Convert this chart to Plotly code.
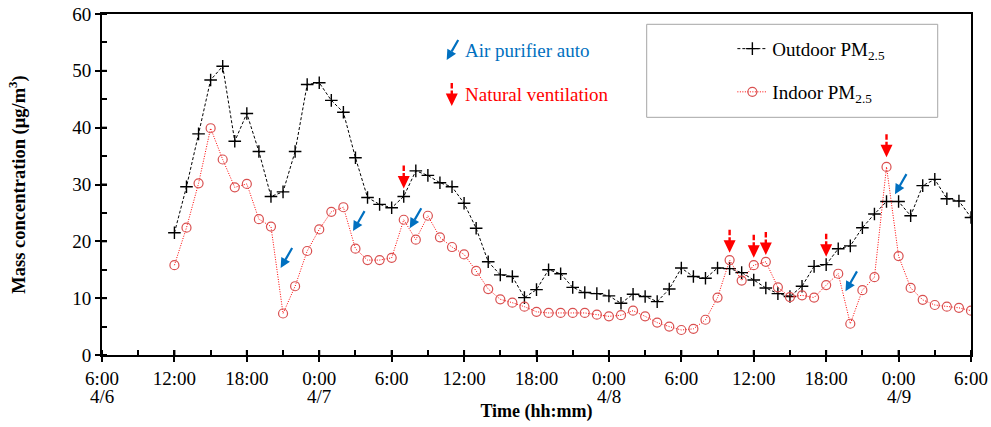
import math
import plotly.graph_objects as go

# Hours elapsed since 4/6 06:00 (hourly samples from 4/6 12:00 to 4/9 06:00)
hours = list(range(6, 73))

outdoor_pm25 = [21.5, 29.6, 38.9, 48.4, 50.8, 37.6, 42.5, 35.8, 27.9, 28.7,
                35.8, 47.6, 47.9, 44.8, 42.7, 34.7, 27.7, 26.5, 25.9, 27.9,
                32.4, 31.6, 30.3, 29.6, 26.7, 22.3, 16.4, 14.1, 13.8, 10.1,
                11.5, 15.0, 14.3, 11.9, 11.0, 10.8, 10.4, 9.1, 10.7, 10.3,
                9.4, 11.6, 15.3, 13.8, 13.5, 15.3, 15.2, 14.5, 13.2, 11.8,
                10.8, 10.3, 12.1, 15.6, 15.9, 18.7, 19.2, 22.4, 24.8, 27.0,
                27.0, 24.5, 29.8, 30.9, 27.5, 27.1, 24.2]

indoor_pm25 = [15.8, 22.4, 30.2, 39.9, 34.4, 29.5, 30.1, 23.9, 22.6, 7.3,
               12.1, 18.3, 22.1, 25.2, 26.0, 18.7, 16.7, 16.7, 17.1, 23.8,
               20.3, 24.5, 20.7, 19.0, 17.7, 14.8, 11.6, 9.8, 9.2, 8.5,
               7.6, 7.4, 7.4, 7.4, 7.4, 7.1, 6.8, 7.0, 7.8, 6.8,
               5.7, 5.0, 4.4, 4.6, 6.2, 10.1, 16.7, 13.1, 15.8, 16.4,
               11.9, 10.2, 10.5, 10.1, 12.3, 14.3, 5.5, 11.4, 13.7, 33.1,
               17.4, 11.8, 9.7, 8.8, 8.5, 8.3, 7.8]

# Events (arrow tips): air purifier switched to auto, natural ventilation
purifier_hours = [14.8, 20.8, 25.5, 61.6, 65.7]
purifier_values = [15.3, 21.8, 22.3, 11.2, 28.3]
ventilation_hours = [25, 52, 54, 55, 60, 65]
ventilation_values = [29.3, 18.0, 17.1, 17.6, 17.3, 34.8]

# Axis ticks
tick_hours = [0, 6, 12, 18, 24, 30, 36, 42, 48, 54, 60, 66, 72]
tick_labels = ["6:00", "12:00", "18:00", "0:00", "6:00", "12:00",
               "18:00", "0:00", "6:00", "12:00", "18:00", "0:00", "6:00"]
date_hours = [0, 18, 42, 66]
date_labels = ["4/6", "4/7", "4/8", "4/9"]
y_ticks = [0, 10, 20, 30, 40, 50, 60]

FONT = "Liberation Serif, Times New Roman, serif"
BLUE = "#0070C0"
RED = "#FF0000"
FS = 19


def blue_arrow_path(dx=11.5, dy=20.0, head_len=10.0, head_half=5.0, shaft_half=1.1):
    """Diagonal arrow, tip at origin, tail up-right (pixel units, y up)."""
    L = math.hypot(dx, dy)
    ux, uy = -dx / L, -dy / L          # unit vector tail -> tip
    nx, ny = -uy, ux                   # normal
    bx, by = -ux * head_len, -uy * head_len
    p = [(0, 0), (bx + head_half * nx, by + head_half * ny),
         (bx - head_half * nx, by - head_half * ny)]
    head = "M{:.2f},{:.2f} L{:.2f},{:.2f} L{:.2f},{:.2f} Z".format(*p[0], *p[1], *p[2])
    s = [(bx + shaft_half * nx, by + shaft_half * ny), (dx + shaft_half * nx, dy + shaft_half * ny),
         (dx - shaft_half * nx, dy - shaft_half * ny), (bx - shaft_half * nx, by - shaft_half * ny)]
    shaft = "M{:.2f},{:.2f} L{:.2f},{:.2f} L{:.2f},{:.2f} L{:.2f},{:.2f} Z".format(
        *s[0], *s[1], *s[2], *s[3])
    return head + " " + shaft


BLUE_ARROW = blue_arrow_path()
RED_ARROW = ("M-6,12.5 L6,12.5 L0,0 Z "
             "M-1.2,12.5 L1.2,12.5 L1.2,15.5 L-1.2,15.5 Z "
             "M-1.2,17.5 L1.2,17.5 L1.2,23 L-1.2,23 Z")

fig = go.Figure()
fig.add_trace(go.Scatter(
    x=hours, y=outdoor_pm25, mode="lines+markers", name="Outdoor PM<sub>2.5</sub>",
    legendgroup="out",
    line=dict(color="#000000", width=1, dash="3px,2px"),
    marker=dict(symbol="cross-thin", size=9, line=dict(color="#000000", width=1.4)),
))
fig.add_trace(go.Scatter(
    x=hours, y=indoor_pm25, mode="lines+markers", name="Indoor PM<sub>2.5</sub>",
    legendgroup="in",
    line=dict(color=RED, width=1, dash="1px,1.5px"),
    marker=dict(symbol="circle-open", size=9, color="#D95050", line=dict(width=1.2)),
))

# Air purifier arrows (blue, diagonal)
for h, v in zip(purifier_hours, purifier_values):
    fig.add_shape(type="path", xref="x", yref="y", xsizemode="pixel", ysizemode="pixel",
                  xanchor=h, yanchor=v, path=BLUE_ARROW, fillcolor=BLUE, line=dict(width=0))

# Natural ventilation arrows (red, downward with dashed shaft)
for h, v in zip(ventilation_hours, ventilation_values):
    fig.add_shape(type="path", xref="x", yref="y", xsizemode="pixel", ysizemode="pixel",
                  xanchor=h, yanchor=v, path=RED_ARROW, fillcolor=RED, line=dict(width=0))

# Event key (top middle)
fig.add_shape(type="path", xref="x", yref="y", xsizemode="pixel", ysizemode="pixel",
              xanchor=28.56, yanchor=51.9, path=BLUE_ARROW, fillcolor=BLUE, line=dict(width=0))
fig.add_annotation(x=29.95, y=53.5, xref="x", yref="y", text="Air purifier auto",
                   showarrow=False, xanchor="left", yanchor="middle",
                   font=dict(family=FONT, size=FS, color=BLUE))
fig.add_shape(type="path", xref="x", yref="y", xsizemode="pixel", ysizemode="pixel",
              xanchor=28.98, yanchor=43.8, path=RED_ARROW, fillcolor=RED, line=dict(width=0))
fig.add_annotation(x=29.95, y=45.9, xref="x", yref="y", text="Natural ventilation",
                   showarrow=False, xanchor="left", yanchor="middle",
                   font=dict(family=FONT, size=FS, color=RED))

# Date labels under the time tick labels
for h, d in zip(date_hours, date_labels):
    fig.add_annotation(x=h, y=0, xref="x", yref="paper", text=d, showarrow=False,
                       xanchor="center", yanchor="middle", yshift=-41, borderpad=0,
                       font=dict(family=FONT, size=FS, color="#000"))

# Major ticks cross the axis: add the inner half of each major tick
for h in tick_hours:
    fig.add_shape(type="line", xref="x", yref="paper", ysizemode="pixel", yanchor=0,
                  x0=h, x1=h, y0=0, y1=5, line=dict(color="#000", width=2))
for v in y_ticks:
    fig.add_shape(type="line", xref="paper", yref="y", xsizemode="pixel", xanchor=0,
                  x0=0, x1=5, y0=v, y1=v, line=dict(color="#000", width=2))

# Legend frame
fig.add_shape(type="rect", xref="paper", yref="paper", x0=0.6268, x1=0.9617, y0=0.697, y1=0.9698,
              line=dict(color="#A6A6A6", width=1), fillcolor="rgba(0,0,0,0)")

fig.update_layout(
    width=991, height=427,
    margin=dict(l=102, r=20, t=14, b=72),
    paper_bgcolor="white", plot_bgcolor="white",
    font=dict(family=FONT, size=FS, color="#000000"),
    showlegend=True,
    legend=dict(x=0.7254, y=0.9537, xanchor="left", yanchor="top",
                bgcolor="rgba(0,0,0,0)", borderwidth=0, tracegroupgap=15.5,
                font=dict(family=FONT, size=FS)),
    xaxis=dict(range=[0, 72], tickmode="array", tickvals=tick_hours, ticktext=tick_labels,
               ticks="outside", ticklen=5, tickwidth=2, tickcolor="#000", automargin=False,
               ticklabeloverflow="allow",
               showline=True, linewidth=2, linecolor="#000", mirror=True,
               showgrid=False, zeroline=False,
               minor=dict(ticks="inside", dtick=3, tick0=0, ticklen=5, tickwidth=1.5, tickcolor="#000"),
               tickfont=dict(family=FONT, size=FS),
               title=dict(text="<b>Time (hh:mm)</b>", font=dict(family=FONT, size=18), standoff=17)),
    yaxis=dict(range=[0, 60], tickmode="array", tickvals=y_ticks,
               ticks="outside", ticklen=5, tickwidth=2, tickcolor="#000", automargin=False,
               ticklabeloverflow="allow",
               showline=True, linewidth=2, linecolor="#000", mirror=True,
               showgrid=False, zeroline=False,
               minor=dict(ticks="inside", dtick=5, tick0=0, ticklen=5, tickwidth=1.5, tickcolor="#000"),
               tickfont=dict(family=FONT, size=FS),
               title=dict(text="<b>Mass concentration (μg/m<sup>3</sup>)</b>",
                          font=dict(family=FONT, size=18.5), standoff=42)),
)

# Remove the default 8 px page margin so the 991x427 figure fills the window exactly.
fig.write_html("out.html", config={"displayModeBar": False},
               post_script="document.body.style.margin='0px';")
